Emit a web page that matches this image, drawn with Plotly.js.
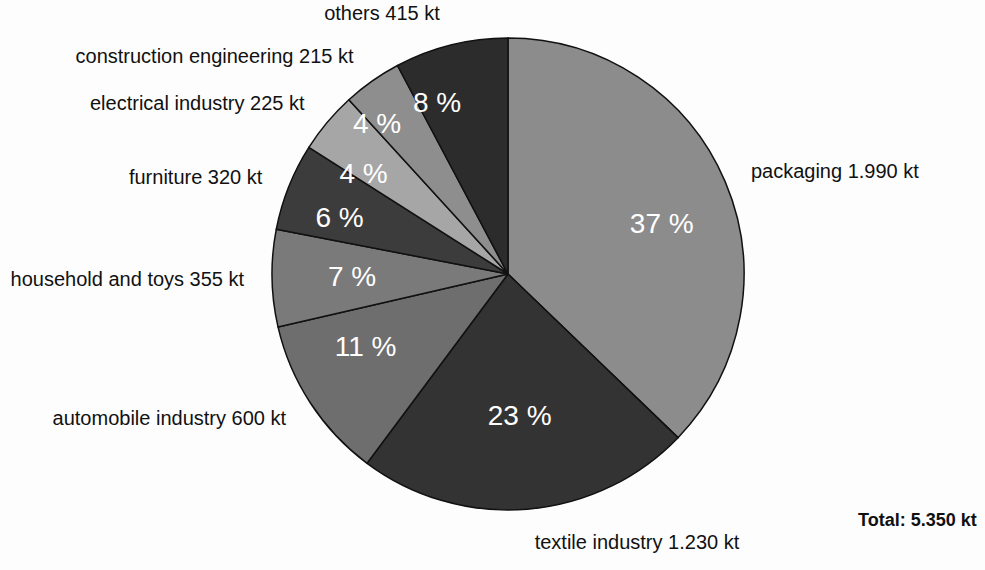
<!DOCTYPE html>
<html>
<head>
<meta charset="utf-8">
<script src="https://cdn.plot.ly/plotly-3.0.1.min.js"></script>
<style>html,body{margin:0;padding:0;background:#fdfdfd;}#chart{width:985px;height:570px;}</style>
</head>
<body>
<div id="chart"></div>
<script>
const categories = ["packaging", "textile industry", "automobile industry", "household and toys", "furniture", "electrical industry", "construction engineering", "others"];
const valuesKt = [1990, 1230, 600, 355, 320, 225, 215, 415];
const valueLabels = ["1.990", "1.230", "600", "355", "320", "225", "215", "415"];
const percentLabels = ["37 %", "23 %", "11 %", "7 %", "6 %", "4 %", "4 %", "8 %"];
const sliceColors = ["#8c8c8c", "#333333", "#6e6e6e", "#7a7a7a", "#3c3c3c", "#a6a6a6", "#8e8e8e", "#2c2c2c"];
const totalLabel = "Total: 5.350 kt";

const FONT = "Liberation Sans, Arial, sans-serif";
const W = 985, H = 570;
const cx = 508, cy = 274, R = 236;
function dom(r) {
  return {x: [(cx - r) / W, (cx + r) / W], y: [1 - (cy + r) / H, 1 - (cy - r) / H]};
}
const transparent = categories.map(() => "rgba(0,0,0,0)");
const common = {
  type: "pie", values: valuesKt, labels: categories, sort: false,
  direction: "clockwise", rotation: 0, showlegend: false
};

// main pie; the large textile slice carries its percentage inside
const pieMain = Object.assign({}, common, {
  text: percentLabels,
  textinfo: "text",
  textposition: categories.map((c, i) => i === 1 ? "inside" : "none"),
  insidetextorientation: "horizontal",
  textfont: {family: FONT, size: 28, color: "#ffffff"},
  marker: {colors: sliceColors, line: {color: "#111111", width: 1.5}},
  domain: dom(R),
  hoverinfo: "label+value"
});

// percentage labels of the other slices, drawn as outside text of hidden inner pies
const percentGroups = [
  {r: 124, idx: [0, 2, 3]},
  {r: 147, idx: [4, 5]},
  {r: 162, idx: [7]},
  {r: 172, idx: [6]}
];
const percentTraces = percentGroups.map(g => Object.assign({}, common, {
  text: percentLabels,
  textinfo: "text",
  textposition: categories.map((c, i) => g.idx.includes(i) ? "outside" : "none"),
  outsidetextfont: {family: FONT, size: 28, color: "#ffffff"},
  marker: {colors: transparent, line: {width: 0}},
  domain: dom(g.r),
  hoverinfo: "skip"
}));

const pieLabels = Object.assign({}, common, {
  text: categories.map((c, i) => c + " " + valueLabels[i] + " kt"),
  textinfo: "text",
  textposition: "outside",
  outsidetextfont: {family: FONT, size: 20, color: "#111111"},
  marker: {colors: transparent, line: {width: 0}},
  domain: dom(258),
  hoverinfo: "skip"
});

const layout = {
  width: W, height: H,
  margin: {l: 0, r: 0, t: 0, b: 0},
  paper_bgcolor: "#fdfdfd",
  showlegend: false,
  annotations: [{
    text: "<b>" + totalLabel + "</b>",
    xref: "paper", yref: "paper", x: 0.994, y: 0.088,
    xanchor: "right", yanchor: "middle", showarrow: false,
    font: {family: FONT, size: 18, color: "#111111"}
  }]
};

Plotly.newPlot("chart", [pieMain].concat(percentTraces, [pieLabels]), layout, {displayModeBar: false, staticPlot: true});
</script>
</body>
</html>
